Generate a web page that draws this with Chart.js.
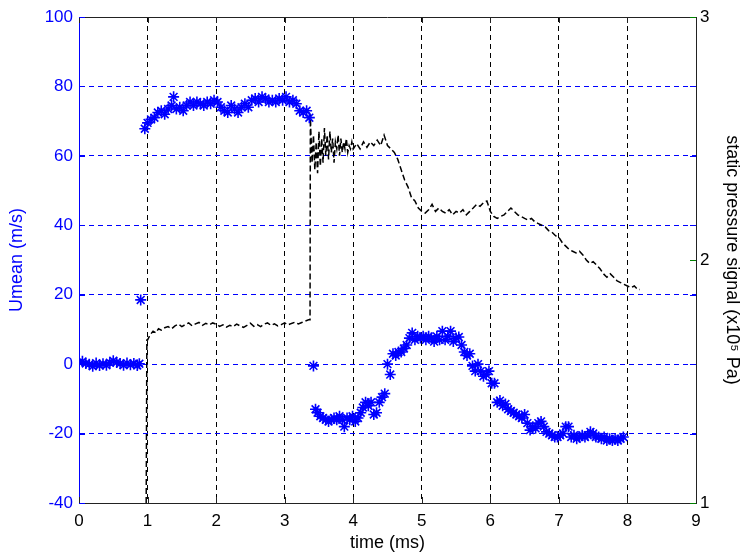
<!DOCTYPE html>
<html>
<head>
<meta charset="utf-8">
<script src="https://cdn.jsdelivr.net/npm/chart.js@4.4.1/dist/chart.umd.min.js"></script>
<style>
  body { margin: 0; background: #fff; }
  canvas { display: block; }
</style>
</head>
<body>
<canvas id="plot" width="743" height="556"></canvas>
<script>
// Umean (m/s), blue stars, left axis
const uTime = [0.00, 0.05, 0.10, 0.15, 0.20, 0.25, 0.30, 0.35, 0.40, 0.45, 0.50, 0.55, 0.60, 0.65, 0.70, 0.75, 0.80, 0.85, 0.88, 0.90,
    0.96, 1.00, 1.05, 1.10, 1.15, 1.20, 1.25, 1.30, 1.35, 1.38, 1.42, 1.47, 1.52, 1.57, 1.62, 1.67, 1.72, 1.77, 1.82, 1.87,
    1.92, 1.97, 2.02, 2.07, 2.12, 2.17, 2.22, 2.27, 2.32, 2.37, 2.42, 2.47, 2.52, 2.57, 2.62, 2.67, 2.72, 2.77, 2.82, 2.87,
    2.92, 2.97, 3.02, 3.07, 3.12, 3.17, 3.22, 3.27, 3.32, 3.36,
    3.42, 3.45, 3.48, 3.52, 3.56, 3.60, 3.64, 3.68, 3.72, 3.76, 3.80, 3.84, 3.87, 3.91, 3.95, 3.99, 4.03, 4.07, 4.11, 4.14,
    4.18, 4.22, 4.26, 4.30, 4.34, 4.38, 4.42, 4.46, 4.50, 4.54, 4.58, 4.62, 4.66, 4.70, 4.74, 4.78, 4.82, 4.86, 4.90, 4.94,
    4.98, 5.02, 5.06, 5.10, 5.14, 5.18, 5.22, 5.26, 5.30, 5.34, 5.38, 5.42, 5.46, 5.50, 5.54, 5.58, 5.62, 5.66, 5.70, 5.74,
    5.78, 5.82, 5.86, 5.90, 5.94, 5.98, 6.02, 6.06, 6.10, 6.14, 6.18, 6.22, 6.26, 6.30, 6.34, 6.38, 6.42, 6.46, 6.50, 6.54,
    6.58, 6.62, 6.66, 6.70, 6.74, 6.78, 6.82, 6.86, 6.90, 6.94, 6.98, 7.02, 7.06, 7.10, 7.14, 7.18, 7.22, 7.26, 7.30, 7.34,
    7.38, 7.42, 7.46, 7.50, 7.54, 7.58, 7.62, 7.66, 7.70, 7.74, 7.78, 7.82, 7.86, 7.90, 7.94];
const uMean = [0.5, 0.8, 0.2, 0.0, -0.6, 0.3, -0.4, 0.1, -0.3, 0.4, 1.0, 0.5, 0.2, -0.3, 0.3, -0.2, 0.2, -0.4, 0.1, 18.5,
    67.8, 69.5, 70.5, 71, 72.5, 73, 72, 73.5, 74.5, 77, 73.5, 74, 73, 74.5, 75.5, 74.5, 75.5, 75, 74.5, 75.5,
    75, 76, 75.5, 74, 73, 72.5, 74.5, 73.5, 72.5, 74, 75, 74, 76, 76.5, 75.5, 77, 76.5, 75.5, 76, 75.5,
    76.5, 76, 77, 75.5, 76, 75, 73, 72.5, 73, 71,
    -0.5, -13, -14, -15, -15.5, -16, -16.5, -16, -15.5, -16, -15, -16, -18, -15.5, -16, -15, -16.5, -15.5, -14, -12.5,
    -11, -12, -11, -14.5, -14, -11, -9.5, -8.5, 0, -3, 3, 2.5, 3.5, 3.5, 4.5, 5.5, 7.5, 9, 7, 8,
    7.5, 8, 7, 8, 7.5, 6.5, 8, 7, 9.5, 7, 8, 9.5, 6.5, 7.5, 7.8, 5.5, 3.5, 2.5, 3, -0.5,
    -2, 0, -2, -3.5, -3, -2, -5.5, -5.5, -11, -10.5, -12, -11.5, -13, -13.5, -14, -14.5, -15, -15.5, -14.5, -17,
    -19, -18, -18.5, -17, -16.5, -18, -19.5, -20, -20.5, -21, -21, -20.5, -20, -18, -18, -21, -20.5, -21.5, -21, -20.5,
    -21, -20.5, -19.5, -20, -21, -21, -21.5, -21, -22, -21.5, -22, -21.5, -22, -21.5, -21];

// static pressure signal (x10^5 Pa), black dashed line, right axis
const pTime = [0.98, 0.99, 1.00, 1.04, 1.08, 1.12, 1.16, 1.20, 1.25, 1.30, 1.35, 1.40, 1.45, 1.50, 1.55, 1.60, 1.65, 1.70,
    1.75, 1.80, 1.85, 1.90, 1.95, 2.00, 2.05, 2.10, 2.15, 2.20, 2.25, 2.30, 2.35, 2.40, 2.45, 2.50, 2.55, 2.60, 2.65, 2.70,
    2.75, 2.80, 2.85, 2.90, 2.95, 3.00, 3.05, 3.10, 3.15, 3.20, 3.25, 3.30, 3.35, 3.37, 3.375,
    3.38, 3.40, 3.42, 3.44, 3.46, 3.48, 3.50, 3.52, 3.54, 3.56, 3.58, 3.60, 3.62, 3.64, 3.66, 3.68, 3.70, 3.72, 3.74, 3.76,
    3.78, 3.80, 3.82, 3.84, 3.86, 3.88, 3.90, 3.92, 3.94, 3.96, 3.98, 4.00, 4.05, 4.10, 4.15, 4.20, 4.25, 4.30, 4.35, 4.40,
    4.45, 4.50, 4.55,
    4.60, 4.65, 4.70, 4.75, 4.80, 4.85, 4.90, 4.95, 5.00, 5.05, 5.10, 5.15, 5.20, 5.25, 5.30, 5.35, 5.40, 5.45, 5.50, 5.55,
    5.60, 5.65, 5.70, 5.75, 5.80, 5.85, 5.90, 5.95, 6.00, 6.05, 6.10, 6.15, 6.20, 6.25, 6.30, 6.35, 6.40, 6.45, 6.50, 6.55,
    6.60, 6.65, 6.70, 6.75, 6.80, 6.85, 6.90, 6.95, 7.00, 7.05, 7.10, 7.15, 7.20, 7.25, 7.30, 7.35, 7.40, 7.45, 7.50, 7.55,
    7.60, 7.65, 7.70, 7.75, 7.80, 7.85, 7.90, 7.95, 8.00, 8.05, 8.10, 8.15, 8.18];
const pSignal = [1.000, 1.671, 1.671, 1.693, 1.707, 1.700, 1.717, 1.711, 1.721, 1.726, 1.717, 1.729, 1.736, 1.726, 1.734, 1.741, 1.729, 1.737,
    1.743, 1.731, 1.739, 1.733, 1.741, 1.736, 1.727, 1.733, 1.724, 1.731, 1.726, 1.736, 1.729, 1.723, 1.731, 1.740, 1.727, 1.734, 1.726, 1.736,
    1.741, 1.731, 1.737, 1.729, 1.734, 1.741, 1.733, 1.739, 1.744, 1.737, 1.743, 1.749, 1.754, 1.754, 2.600,
    2.543, 2.400, 2.514, 2.371, 2.486, 2.357, 2.529, 2.386, 2.500, 2.400, 2.543, 2.429, 2.514, 2.414, 2.529, 2.443, 2.500, 2.400, 2.486, 2.457,
    2.514, 2.429, 2.500, 2.443, 2.486, 2.457, 2.500, 2.443, 2.471, 2.457, 2.486, 2.457, 2.479, 2.457, 2.486, 2.464, 2.486, 2.471, 2.493, 2.471,
    2.514, 2.471, 2.457,
    2.443, 2.414, 2.371, 2.329, 2.300, 2.257, 2.243, 2.214, 2.200, 2.193, 2.207, 2.229, 2.200, 2.214, 2.200, 2.193, 2.207, 2.186, 2.200, 2.193,
    2.207, 2.186, 2.200, 2.214, 2.229, 2.221, 2.236, 2.243, 2.200, 2.179, 2.171, 2.179, 2.186, 2.200, 2.214, 2.200, 2.186, 2.179, 2.171, 2.164,
    2.171, 2.157, 2.150, 2.143, 2.136, 2.121, 2.114, 2.100, 2.093, 2.071, 2.057, 2.043, 2.036, 2.029, 2.036, 2.021, 2.000, 1.986, 1.993, 1.979,
    1.964, 1.943, 1.929, 1.943, 1.929, 1.914, 1.907, 1.900, 1.893, 1.886, 1.893, 1.879, 1.879];

const xTicks = [0, 1, 2, 3, 4, 5, 6, 7, 8, 9];

const FONT = "'Liberation Sans', Arial, sans-serif";
const BLUE = "#0000ff";

function toPoints(xs, ys) {
    return xs.map((x, i) => ({ x: x, y: ys[i] }));
}

// hide grid lines that would sit on the box edges
function innerGrid(color, lo, hi) {
    return ctx => (ctx.tick && (ctx.tick.value === lo || ctx.tick.value === hi)) ? "rgba(0,0,0,0)" : color;
}

// top border and small MATLAB-style tick marks
const boxPlugin = {
    id: "box",
    afterDraw(chart) {
        const ctx = chart.ctx;
        const a = chart.chartArea;
        const x = chart.scales.x, y = chart.scales.y, y1 = chart.scales.y1;
        ctx.save();
        ctx.lineWidth = 1;
        ctx.strokeStyle = "#222";
        ctx.beginPath();
        ctx.moveTo(a.left, a.top + 0.5);
        ctx.lineTo(a.right, a.top + 0.5);
        ctx.stroke();
        // x ticks, bottom and top
        ctx.beginPath();
        xTicks.forEach(v => {
            const px = Math.round(x.getPixelForValue(v)) + 0.5;
            ctx.moveTo(px, a.bottom); ctx.lineTo(px, a.bottom - 6);
            ctx.moveTo(px, a.top); ctx.lineTo(px, a.top + 6);
        });
        ctx.stroke();
        // left ticks mirrored on right side
        ctx.strokeStyle = BLUE;
        ctx.beginPath();
        for (let v = -40; v <= 100; v += 20) {
            const py = Math.round(y.getPixelForValue(v)) + 0.5;
            ctx.moveTo(a.left, py); ctx.lineTo(a.left + 6, py);
            ctx.moveTo(a.right, py); ctx.lineTo(a.right - 6, py);
        }
        ctx.stroke();
        // right axis ticks
        ctx.strokeStyle = "#008000";
        ctx.beginPath();
        [1, 2, 3].forEach(v => {
            const py = Math.round(y1.getPixelForValue(v)) + 0.5;
            ctx.moveTo(a.right, py); ctx.lineTo(a.right - 6, py);
        });
        ctx.stroke();
        ctx.restore();
    }
};

new Chart("plot", {
    type: "scatter",
    data: {
        datasets: [{
            label: "Umean",
            data: toPoints(uTime, uMean),
            yAxisID: "y",
            showLine: false,
            pointStyle: "star",
            pointRadius: 5.5,
            borderColor: BLUE,
            backgroundColor: BLUE,
            borderWidth: 1.6
        }, {
            label: "static pressure",
            data: toPoints(pTime, pSignal),
            yAxisID: "y1",
            showLine: true,
            pointRadius: 0,
            borderColor: "#000",
            borderWidth: 1.5,
            borderDash: [6, 3],
            tension: 0
        }]
    },
    options: {
        responsive: false,
        animation: false,
        layout: { padding: { top: 17, left: 0, right: 0, bottom: 0 } },
        plugins: { legend: { display: false }, tooltip: { enabled: false } },
        scales: {
            x: {
                type: "linear",
                min: 0, max: 9,
                afterFit(s) { s.height = 53; },
                afterBuildTicks(s) { s.ticks = xTicks.map(v => ({ value: v })); },
                grid: { color: innerGrid("#000", 0, 9), lineWidth: 1, drawTicks: false },
                border: { color: "#222", dash: [5, 4] },
                ticks: { color: "#000", font: { family: FONT, size: 17 }, padding: 8 },
                title: { display: true, text: "time (ms)", color: "#000", font: { family: FONT, size: 18 }, padding: { top: 0, bottom: 2 } }
            },
            y: {
                position: "left",
                min: -40, max: 100,
                afterFit(s) { s.width = 79; },
                grid: { color: innerGrid(BLUE, -40, 100), lineWidth: 1, drawTicks: false },
                border: { color: BLUE, dash: [5, 4] },
                ticks: { stepSize: 20, color: BLUE, font: { family: FONT, size: 17 }, padding: 6 },
                title: { display: true, text: "Umean (m/s)", color: BLUE, font: { family: FONT, size: 18 }, padding: { top: 6, bottom: 0 } }
            },
            y1: {
                position: "right",
                min: 1, max: 3,
                afterFit(s) { s.width = 47; },
                grid: { display: false, drawTicks: false },
                border: { color: "#222" },
                ticks: { stepSize: 1, color: "#000", font: { family: FONT, size: 17 }, padding: 4 },
                title: { display: true, text: "static pressure signal (x10\u2075 Pa)", color: "#000", font: { family: FONT, size: 18 }, padding: { top: 0, bottom: 5 } }
            }
        }
    },
    plugins: [boxPlugin]
});
</script>
</body>
</html>
